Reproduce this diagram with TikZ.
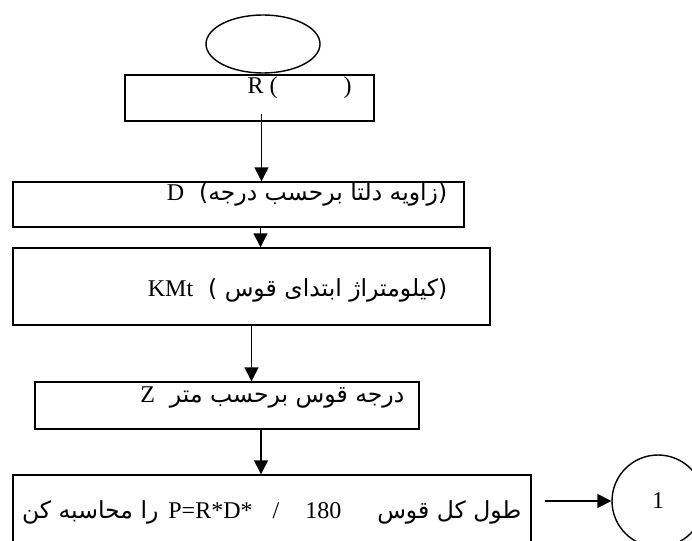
\documentclass[tikz,border=0pt]{standalone}
\usepackage{fontspec}
\setmainfont{Liberation Serif}
\newfontfamily\arabicfont[Script=Arabic,Scale=0.98]{DejaVu Sans}
\TeXXeTstate=1
\usetikzlibrary{arrows.meta, calc, shapes.geometric}

\begin{document}
\begin{tikzpicture}[x=1pt, y=-1pt, line width=1.4pt,
  box/.style={draw, rectangle, inner sep=0pt},
  txt/.style={inner sep=0pt, font=\fontsize{24}{28}\selectfont},
  arr/.style={-{Triangle[length=14pt, width=14pt]}}]
\useasboundingbox (0,0) rectangle (692,540);
\clip (0,0) rectangle (692,540);
% start and boxes
\node[draw, ellipse, minimum width=114pt, minimum height=58pt] (start) at (263,44) {};
\node[box, minimum width=249pt, minimum height=46pt] (boxR) at (249.5,98) {};
\node[box, minimum width=451pt, minimum height=45pt] (boxD) at (238.5,204.5) {};
\node[box, minimum width=477pt, minimum height=77pt] (boxK) at (251.5,286.5) {};
\node[box, minimum width=384pt, minimum height=47pt] (boxZ) at (227,405.5) {};
\node[box, minimum width=518pt, minimum height=95pt] (boxP) at (272,522.5) {};
\node[draw, circle, minimum size=92pt, txt] (con) at (658,501) {1};
% texts
\node[txt, anchor=west] (tR) at (247,88) {R (\hspace{66pt})};
\node[txt, anchor=east] (tD) at (448,194) {\arabicfont\beginR (زاویه دلتا برحسب درجه)\ \ {\rmfamily D}\endR};
\node[txt, anchor=east] (tK) at (448,290) {\arabicfont\beginR (کیلومتراژ ابتدای قوس )\ \ \beginL{\rmfamily KMt}\endL\endR};
\node[txt, anchor=east] (tZ) at (405,398) {\arabicfont\beginR درجه قوس برحسب متر\ \ {\rmfamily Z}\endR};
\node[txt, anchor=east] (tP) at (522,512) {\arabicfont\beginR طول کل قوس\hspace{36pt}\beginL{\rmfamily P=R*D*\hspace{20pt}/\hspace{26pt}180}\endL\hspace{10pt}را محاسبه کن\endR};
% arrows
\draw[arr] ([xshift=12pt, yshift=8pt]boxR.south) -- ([xshift=12pt]boxR.south |- boxD.north);
\draw[arr] ([xshift=22pt]boxD.south) -- ([xshift=22pt]boxD.south |- boxK.north);
\draw[arr] (boxK.south) -- (boxK.south |- boxZ.north);
\draw[arr] ([xshift=34pt]boxZ.south) -- ([xshift=34pt]boxZ.south |- boxP.north);
\coordinate (p5) at ($(boxP.east |- con.west)+(13,0)$);
\draw[arr] (p5) -- (con.west);
\end{tikzpicture}
\end{document}
